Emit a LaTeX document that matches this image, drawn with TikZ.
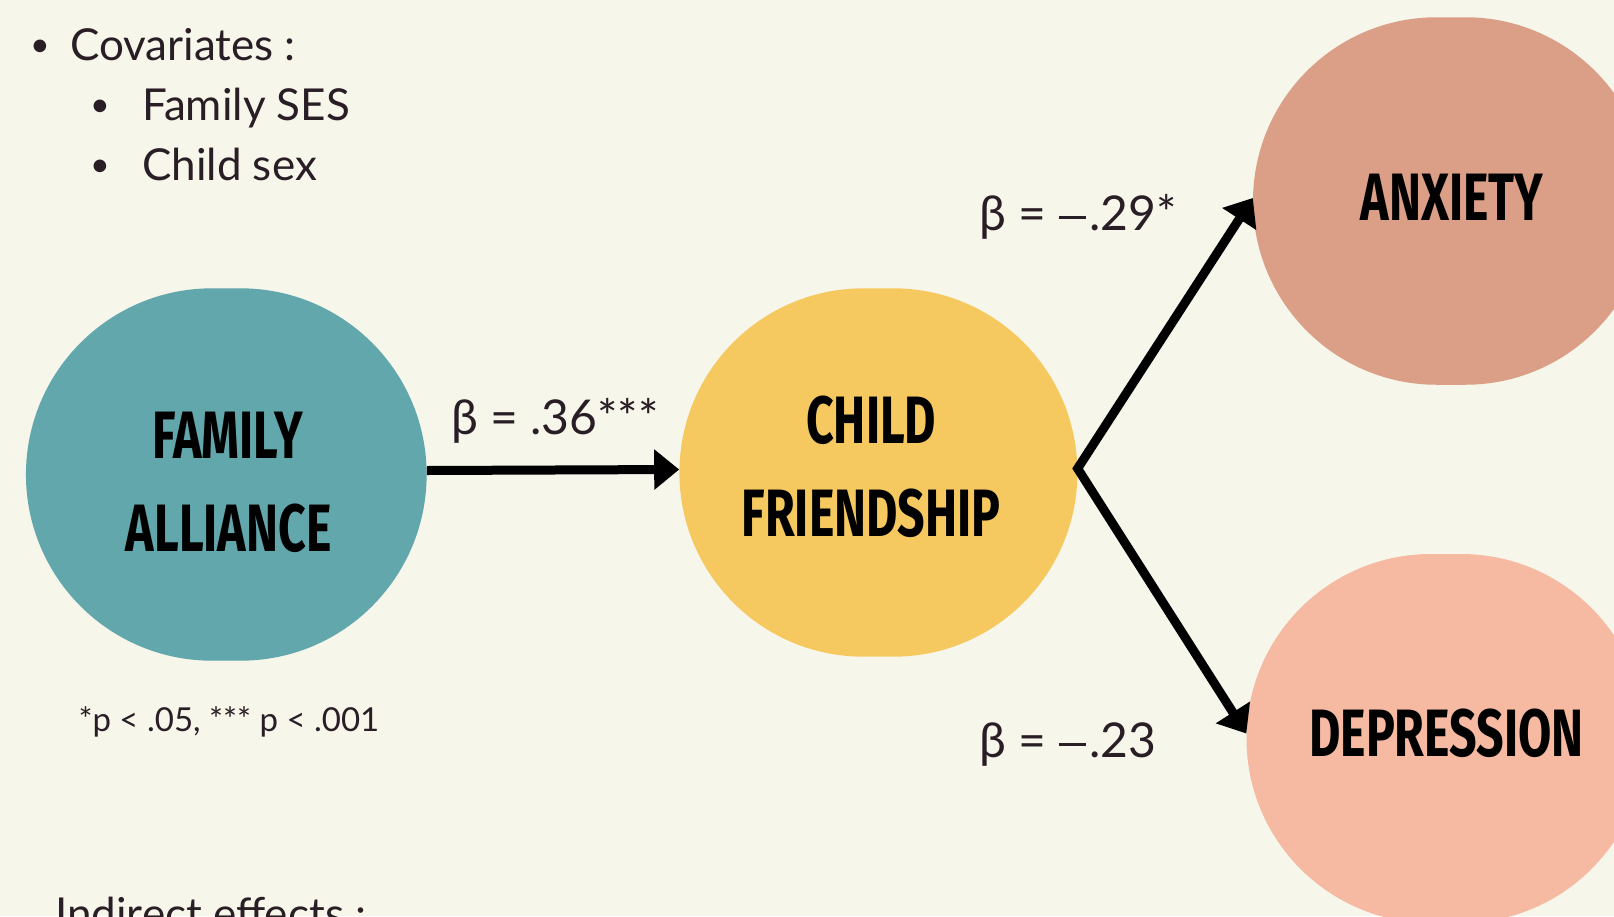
\documentclass[tikz,border=0pt]{standalone}
\usepackage{fontspec}
\usetikzlibrary{shapes.misc,arrows.meta}
\setmainfont{Lato}
\newfontfamily\headfont{Fira Sans}[FakeStretch=0.72]

% long minus sign, set at the height of the equals bars
\newcommand\longminus{\kern1pt\rule[0.235em]{0.56em}{0.06em}\kern3pt}

\definecolor{paper}{HTML}{F6F6EA}
\definecolor{ink}{HTML}{2A1E26}
\definecolor{tealblob}{HTML}{62A7AC}
\definecolor{sunblob}{HTML}{F6C860}
\definecolor{clayblob}{HTML}{DB9E86}
\definecolor{peachblob}{HTML}{F6B9A2}

\tikzset{
  blob/.style={shape=rounded rectangle, draw=none, inner sep=0pt},
  head/.style={anchor=base, inner sep=0pt, text=black,
    font=\headfont\bfseries\fontsize{67pt}{67pt}\selectfont},
  body/.style={anchor=base west, inner sep=0pt, text=ink,
    font=\fontsize{44pt}{53pt}\selectfont},
  dot/.style={anchor=base, inner sep=0pt, text=ink,
    font=\fontsize{34pt}{40pt}\selectfont},
  coef/.style={anchor=base west, inner sep=0pt, text=ink,
    font=\fontsize{48pt}{58pt}\selectfont},
  note/.style={anchor=base west, inner sep=0pt, text=ink,
    font=\fontsize{33pt}{40pt}\selectfont},
  path/.style={line width=9pt, black},
  tip/.tip={Triangle[length=25pt, width=39pt]}
}

\begin{document}
\begin{tikzpicture}[x=1pt, y=-1pt]
  \fill[paper] (0,0) rectangle (1614,916);
  \useasboundingbox (0,0) rectangle (1614,916);
  \clip (0,0) rectangle (1614,916);

  % covariate list
  \node[dot]  (b1) at (40,56) {•};
  \node[body] (cov) at (70,60) {Covariates :};
  \node[dot]  (b2) at (100,116.7) {•};
  \node[body] (ses) at (142,120.7) {Family SES};
  \node[dot]  (b3) at (100,176) {•};
  \node[body] (sex) at (142,180) {Child sex};

  % variables
  \node[blob, fill=tealblob, minimum width=400.7pt, minimum height=372.4pt] (fam) at (226.3,474.5) {};
  \node[blob, fill=sunblob, minimum width=398pt, minimum height=368.4pt] (fri) at (878.4,472.5) {};
  \node[blob, fill=clayblob, minimum width=396pt, minimum height=367.5pt] (anx) at (1451,201) {};
  \node[blob, fill=peachblob, minimum width=399pt, minimum height=369pt] (dep) at (1446,738.5) {};

  \node[head] (famA) at (227.5,458.3) {FAMILY};
  \node[head] (famB) at (228.7,551.7) {ALLIANCE};
  \node[head] (friA) at (871.2,443.3) {CHILD};
  \node[head] (friB) at (871.2,536.7) {FRIENDSHIP};
  \node[head] (anxA) at (1452,220) {ANXIETY};
  \node[head] (depA) at (1446.5,756.5) {DEPRESSION};

  % paths
  \draw[path, -tip] ([yshift=4pt]fam.east) -- ([yshift=3pt]fri.west);
  \draw[path, tip-tip, miter limit=10] ([yshift=3pt]anx.west) -- ([yshift=4pt]fri.east) -- ([yshift=5pt]dep.west);

  % coefficients
  \node[coef] (c1) at (451,434) {β = .36***};
  \node[coef] (c2) at (979,230) {β = \longminus.29*};
  \node[coef] (c3) at (979,757) {β = \longminus.23};

  \node[note] (sig) at (78.3,731) {*p < .05, *** p < .001};

  \node[body] (ind) at (55,929) {Indirect effects :};
\end{tikzpicture}
\end{document}
